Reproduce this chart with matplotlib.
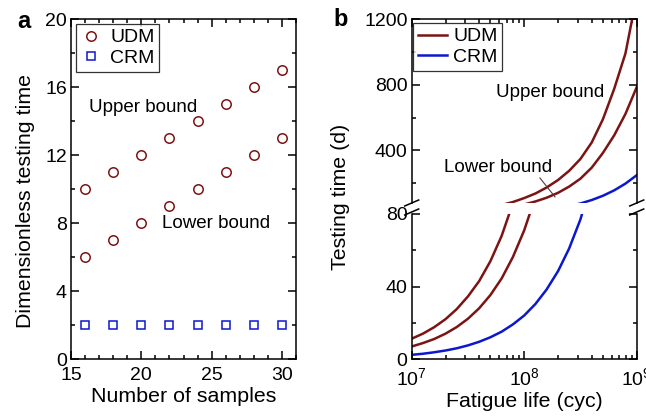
import matplotlib
matplotlib.use("Agg")
import matplotlib.pyplot as plt
from matplotlib.lines import Line2D
from matplotlib.ticker import MultipleLocator, LogLocator, NullFormatter

plt.rcParams["font.family"] = ["Liberation Sans", "DejaVu Sans"]
plt.rcParams["mathtext.fontset"] = "custom"
plt.rcParams["mathtext.rm"] = "Liberation Sans"

# panel a: dimensionless testing time vs number of samples
n_samples = [16, 18, 20, 22, 24, 26, 28, 30]
udm_upper = [10, 11, 12, 13, 14, 15, 16, 17]
udm_lower = [6, 7, 8, 9, 10, 11, 12, 13]
crm_dimless = [2, 2, 2, 2, 2, 2, 2, 2]

# panel b: testing time (days) vs fatigue life (cycles)
fatigue_life = [1.0e7, 1.26e7, 1.58e7, 2.0e7, 2.51e7, 3.16e7, 3.98e7, 5.01e7, 6.31e7, 7.94e7,
                1.0e8, 1.26e8, 1.58e8, 2.0e8, 2.51e8, 3.16e8, 3.98e8, 5.01e8, 6.31e8, 7.94e8,
                1.0e9]
time_upper = [11.2, 14.0, 17.5, 22, 27.5, 34.5, 43, 54, 68, 86,
              110, 138, 174, 220, 276, 348, 448, 590, 775, 990,
              1340]
time_lower = [6.9, 8.8, 11.0, 14, 17.6, 22.2, 28, 35.3, 44.5, 56.3,
              71, 89.5, 112, 142, 180, 228, 295, 385, 492, 622,
              785]
time_crm = [2.3, 2.9, 3.7, 4.7, 5.9, 7.5, 9.5, 12, 15.1, 19.1,
            24, 30.4, 38.3, 48.5, 61, 77, 98, 124, 157, 198,
            249]

RED = "#7c1414"
BLUE = "#0c18cc"
W, H = 646, 417


def box(x0, y0, x1, y1):
    # pixel box (top-left origin) -> figure fraction rect
    return [x0 / W, 1 - y1 / H, (x1 - x0) / W, (y1 - y0) / H]


def style(ax, top=True, bottom=True):
    ax.tick_params(which="both", direction="in", right=True, top=top, bottom=bottom,
                   labelsize=14, width=1.1, pad=4)
    ax.tick_params(which="major", length=6)
    ax.tick_params(which="minor", length=3)
    for s in ax.spines.values():
        s.set_linewidth(1.1)


fig = plt.figure(figsize=(W / 100, H / 100), dpi=100)

# ---- panel a
ax = fig.add_axes(box(71, 19, 296, 359))
ax.plot(n_samples, udm_upper, "o", ms=6.8, mfc="none", mec=RED, mew=1.1, label="UDM")
ax.plot(n_samples, udm_lower, "o", ms=6.8, mfc="none", mec=RED, mew=1.1)
ax.plot(n_samples, crm_dimless, "s", ms=5.4, mfc="none", mec=BLUE, mew=1.1, label="CRM")
ax.set_xlim(15, 31)
ax.set_ylim(0, 20)
ax.xaxis.set_major_locator(MultipleLocator(5))
ax.xaxis.set_minor_locator(MultipleLocator(1))
ax.yaxis.set_major_locator(MultipleLocator(4))
ax.yaxis.set_minor_locator(MultipleLocator(2))
style(ax)
ax.tick_params(axis="y", pad=3)
ax.tick_params(axis="x", pad=6)
ax.set_xlabel("Number of samples", fontsize=15.4, labelpad=2)
fig.text(26 / W, 1 - 201 / H, "Dimensionless testing time", fontsize=15.4, rotation=90,
         ha="center", va="center")
ax.text(20.1, 14.8, "Upper bound", fontsize=13.5, ha="center", va="center")
ax.text(25.35, 8.0, "Lower bound", fontsize=13.5, ha="center", va="center")
leg = ax.legend(loc="upper left", bbox_to_anchor=(5 / 225, 1 - 5 / 340), borderaxespad=0,
                fontsize=14, frameon=True, fancybox=False, handlelength=1.0,
                handletextpad=0.5, labelspacing=0.15, borderpad=0.25)
leg.get_frame().set_edgecolor("black")
leg.get_frame().set_linewidth(0.9)
fig.text(24 / W, 1 - 21 / H, "a", fontsize=17, fontweight="bold", ha="center", va="center")

# ---- panel b (broken y axis)
bx0, bx1 = 411.7, 636.7
top = fig.add_axes(box(bx0, 19, bx1, 203))
bot = fig.add_axes(box(bx0, 214, bx1, 359))
for a in (top, bot):
    a.plot(fatigue_life, time_upper, color=RED, lw=1.8, label="UDM")
    a.plot(fatigue_life, time_lower, color=RED, lw=1.8)
    a.plot(fatigue_life, time_crm, color=BLUE, lw=1.8, label="CRM")
    a.set_xscale("log")
    a.set_xlim(1e7, 1e9)
    a.xaxis.set_major_locator(LogLocator(base=10, numticks=10))
    a.xaxis.set_minor_locator(LogLocator(base=10, subs=range(2, 10), numticks=20))
top.set_ylim(80, 1200)
top.set_yticks([400, 800, 1200])
top.yaxis.set_minor_locator(MultipleLocator(200))
bot.set_ylim(0, 80)
bot.set_yticks([0, 40, 80])
bot.yaxis.set_minor_locator(MultipleLocator(20))
top.spines["bottom"].set_visible(False)
bot.spines["top"].set_visible(False)
style(top, top=True, bottom=False)
style(bot, top=False, bottom=True)
bot.tick_params(axis="y", pad=3)
top.tick_params(axis="y", pad=3)
bot.tick_params(axis="x", pad=6)
top.tick_params(labelbottom=False)
top.xaxis.set_minor_formatter(NullFormatter())
bot.xaxis.set_minor_formatter(NullFormatter())
bot.set_xlabel("Fatigue life (cyc)", fontsize=15.4, labelpad=2)
fig.text(340 / W, 1 - 197 / H, "Testing time (d)", fontsize=15.4, rotation=90,
         ha="center", va="center")

top.text(1.69e8, 750, "Upper bound", fontsize=13.5, ha="center", va="center")
top.text(5.85e7, 299, "Lower bound", fontsize=13.5, ha="center", va="center")
top.plot([1.38e8, 1.88e8], [232, 117], color="#5a3a3a", lw=0.8)

leg = top.legend(loc="upper left", bbox_to_anchor=(1.5 / 225, 1 - 4 / 184), borderaxespad=0,
                 fontsize=14, frameon=True, fancybox=False, handlelength=1.5,
                 handletextpad=0.3, labelspacing=0.15, borderpad=0.25)
leg.get_frame().set_edgecolor("black")
leg.get_frame().set_linewidth(0.9)

# break marks on both spines
for xb in (bx0, bx1):
    for yb in (203, 212):
        fig.add_artist(Line2D([(xb - 7) / W, (xb + 7) / W],
                              [1 - (yb + 3) / H, 1 - (yb - 3) / H],
                              color="black", lw=1.1))

fig.text(341 / W, 1 - 20 / H, "b", fontsize=17, fontweight="bold", ha="center", va="center")

fig.savefig("out.png", dpi=100)
